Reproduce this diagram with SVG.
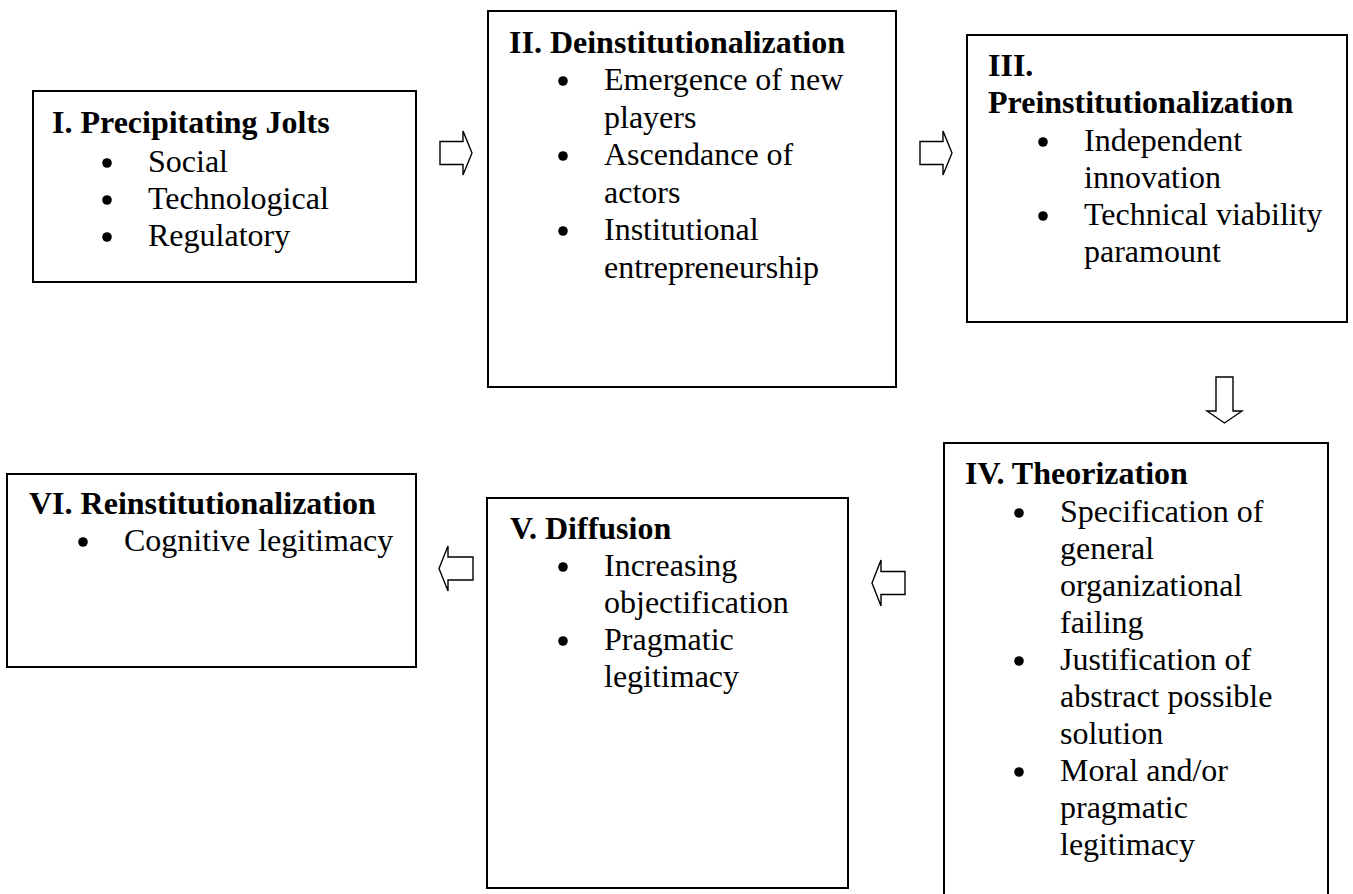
<svg xmlns="http://www.w3.org/2000/svg" width="1353" height="894" viewBox="0 0 1353 894">
<style>
.box{fill:#fff;stroke:#000;stroke-width:2}
.t{font-family:"Liberation Serif","Times New Roman",serif;font-size:32px;fill:#000}
.h{font-weight:bold}
.b{fill:#000}
.arr{fill:#fff;stroke:#000;stroke-width:1.4;stroke-linejoin:miter}
</style>
<rect width="1353" height="894" fill="#fff"/>
<g id="node-I">
<rect class="box" x="33" y="91" width="383" height="191"/>
<text class="t h" x="52" y="133">I. Precipitating Jolts</text>
<circle class="b" cx="107" cy="163" r="4.8"/><text class="t" x="148" y="172">Social</text>
<circle class="b" cx="107" cy="200" r="4.8"/><text class="t" x="148" y="209">Technological</text>
<circle class="b" cx="107" cy="237" r="4.8"/><text class="t" x="148" y="246">Regulatory</text>
</g>
<g id="node-II">
<rect class="box" x="488" y="11" width="408" height="376"/>
<text class="t h" x="509" y="53">II. Deinstitutionalization</text>
<circle class="b" cx="563" cy="81" r="4.8"/><text class="t" x="604" y="90">Emergence of new</text>
<text class="t" x="604" y="127.5">players</text>
<circle class="b" cx="563" cy="156" r="4.8"/><text class="t" x="604" y="165">Ascendance of</text>
<text class="t" x="604" y="202.5">actors</text>
<circle class="b" cx="563" cy="231" r="4.8"/><text class="t" x="604" y="240">Institutional</text>
<text class="t" x="604" y="277.5">entrepreneurship</text>
</g>
<g id="node-III">
<rect class="box" x="967" y="35" width="380" height="287"/>
<text class="t h" x="988" y="76">III.</text>
<text class="t h" x="988" y="113">Preinstitutionalization</text>
<circle class="b" cx="1043" cy="142" r="4.8"/><text class="t" x="1084" y="151">Independent</text>
<text class="t" x="1084" y="188">innovation</text>
<circle class="b" cx="1043" cy="216" r="4.8"/><text class="t" x="1084" y="225">Technical viability</text>
<text class="t" x="1084" y="262">paramount</text>
</g>
<g id="node-IV">
<path class="box" d="M944,900 V443 H1328 V900"/>
<text class="t h" x="965" y="484">IV. Theorization</text>
<circle class="b" cx="1019" cy="513" r="4.8"/><text class="t" x="1060" y="522">Specification of</text>
<text class="t" x="1060" y="559">general</text>
<text class="t" x="1060" y="596">organizational</text>
<text class="t" x="1060" y="633">failing</text>
<circle class="b" cx="1019" cy="661" r="4.8"/><text class="t" x="1060" y="670">Justification of</text>
<text class="t" x="1060" y="707">abstract possible</text>
<text class="t" x="1060" y="744">solution</text>
<circle class="b" cx="1019" cy="772" r="4.8"/><text class="t" x="1060" y="781">Moral and/or</text>
<text class="t" x="1060" y="818">pragmatic</text>
<text class="t" x="1060" y="855">legitimacy</text>
</g>
<g id="node-V">
<rect class="box" x="487" y="498" width="361" height="390"/>
<text class="t h" x="510" y="539">V. Diffusion</text>
<circle class="b" cx="563" cy="567" r="4.8"/><text class="t" x="604" y="576">Increasing</text>
<text class="t" x="604" y="613">objectification</text>
<circle class="b" cx="563" cy="641" r="4.8"/><text class="t" x="604" y="650">Pragmatic</text>
<text class="t" x="604" y="687">legitimacy</text>
</g>
<g id="node-VI">
<rect class="box" x="7" y="474" width="409" height="193"/>
<text class="t h" x="29" y="514">VI. Reinstitutionalization</text>
<circle class="b" cx="83" cy="542" r="4.8"/><text class="t" x="124" y="551">Cognitive legitimacy</text>
</g>
<g id="connectors">
<polygon class="arr" points="440,141.5 463,141.5 463,131 472,153 463,175 463,164.5 440,164.5"/>
<polygon class="arr" points="920,141.5 943,141.5 943,131 952,153 943,175 943,164.5 920,164.5"/>
<polygon class="arr" points="1216,377 1233,377 1233,411 1242,411 1224.5,423 1207,411 1216,411"/>
<polygon class="arr" points="905,571.5 881,571.5 881,560 872,583 881,606 881,594.5 905,594.5"/>
<polygon class="arr" points="473,557 448,557 448,546 439,568.5 448,591 448,580 473,580"/>
</g>
</svg>
